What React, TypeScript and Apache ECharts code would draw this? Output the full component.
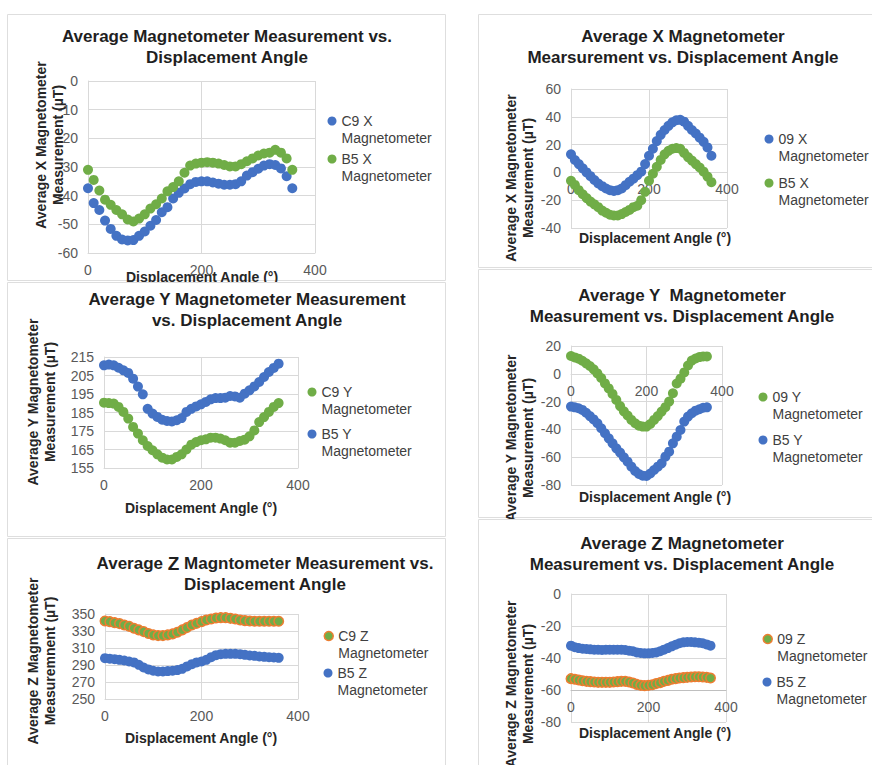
import React, { useEffect, useRef } from "react";
import * as echarts from "echarts";

const angles = [0, 10, 20, 30, 40, 50, 60, 70, 80, 90, 100, 110, 120, 130, 140, 150, 160, 170, 180, 190, 200, 210, 220, 230, 240, 250, 260, 270, 280, 290, 300, 310, 320, 330, 340, 350, 360];

// Panel 1: X, C9 vs B5
const p1C9X = [-37.4, -42.6, -45, -48.7, -51.6, -54, -55.3, -55.6, -55.5, -54, -52.5, -50.5, -48.5, -45.8, -44, -41, -39, -37.5, -36, -35.2, -35, -35, -35.4, -35.8, -36.2, -36.2, -36, -35, -33, -31.8, -30.6, -29.5, -29, -29.3, -30.5, -33.2, -37.4];
const p1B5X = [-31, -34.5, -38.2, -41.4, -43.2, -45, -46.5, -48.3, -49, -48, -46.5, -44.5, -43, -41, -38.5, -37, -35, -32, -29.5, -28.8, -28.5, -28.3, -28.5, -28.8, -29.3, -29.8, -29.8, -29, -28, -27, -26, -25.3, -25, -24, -25, -27, -31];
// Panel 2: X, 09 vs B5
const p2N09X = [13, 8.9, 6, 2.9, 0, -2.7, -5.5, -8, -9.9, -11.6, -12.8, -13.3, -12.8, -11.6, -9.2, -6.7, -4.5, -2, 0.5, 6, 12, 17, 22.5, 27, 30.5, 33.5, 36, 37.5, 37.8, 36.5, 33.5, 30.5, 28, 25, 22, 18, 12];
const p2B5X = [-6, -9, -12.8, -15.7, -18.5, -21, -23, -25, -27.5, -29, -30.5, -31, -31, -30, -28.5, -27, -25, -24, -20, -14, -6, -1, 4, 9, 13, 15.5, 17, 17.5, 17, 14, 11, 8.5, 6, 3.5, 0.5, -3, -7];
// Panel 3: Y, C9 vs B5
const p3C9Y = [190.3, 190.1, 189.8, 188, 185.3, 181.7, 177.2, 173.6, 170, 166.9, 164.6, 162.4, 160.6, 159.6, 159.6, 161, 162.4, 165, 167.6, 169, 170, 170.5, 171.4, 171.4, 170.9, 170, 168.7, 168.7, 169.6, 170.3, 172.1, 175.3, 179.8, 182.5, 185.3, 188, 190.1];
const p3B5Y = [210.5, 210.9, 210.5, 209.2, 207.8, 206.4, 203.3, 199, 194.8, 187, 184.4, 182.6, 181.1, 180.4, 180.2, 180.8, 182, 185.3, 187, 188.3, 189.4, 190.7, 192.1, 192.8, 192.8, 193, 193.9, 193.7, 193, 195.2, 197, 199.1, 201.5, 204.2, 206.9, 209.1, 211.4];
// Panel 4: Y, 09 vs B5
const p4N09Y = [12.8, 11.8, 10.9, 9.4, 7.5, 5.6, 3.2, 0.3, -3, -6.9, -10.5, -14.5, -18.8, -23.2, -27, -30, -33.2, -35.6, -37.3, -38, -38, -36.1, -33.2, -30.4, -27.2, -24, -20, -14, -7, -3.5, 1, 6, 9.5, 11, 12, 12.5, 12.5];
const p4B5Y = [-23.6, -24.1, -24.8, -26, -28, -30.4, -32.8, -35.6, -39.2, -42.8, -46.4, -50, -53.6, -56.7, -60.1, -63.2, -66.8, -69.9, -72.1, -73.3, -73.5, -71.7, -69.2, -66.8, -64.4, -59.6, -56, -50, -45.2, -40.4, -34.4, -30.8, -28.4, -26.5, -25.5, -24.4, -24.1];
// Panel 5: Z, C9 vs B5
const p5C9Z = [341.8, 341, 339.8, 338.7, 337.1, 335.5, 333.2, 331.3, 329.3, 327, 325.4, 324.6, 324.6, 325.4, 326.6, 328.5, 331.3, 334, 337.1, 339, 341, 343, 344.1, 345.3, 345.7, 345.7, 344.9, 344.1, 343, 342.2, 341.8, 341.4, 341.4, 341.4, 341.4, 341.4, 341.4];
const p5B5Z = [298, 297.3, 296.9, 296.1, 295.3, 294.1, 293, 290.2, 287.1, 284.8, 283.2, 282.4, 282.4, 282.8, 283.2, 284, 285.5, 288.3, 291, 293, 294.1, 296.1, 299.2, 301.6, 302.7, 303.1, 303.1, 303.1, 302.7, 302, 301.2, 300.8, 300, 299.6, 299.2, 298.8, 298.4];
// Panel 6: Z, 09 vs B5
const p6N09Z = [-52.9, -53.3, -53.75, -54.2, -54.6, -54.8, -55, -55.2, -55.2, -55.2, -55.2, -55, -54.8, -54.6, -54.6, -55, -55.6, -56.5, -57.1, -57.3, -57.1, -56.7, -56, -55.4, -54.6, -54, -53.3, -52.9, -52.5, -52.3, -52.1, -51.9, -51.7, -51.7, -51.9, -52.1, -52.5];
const p6B5Z = [-32.3, -33.3, -33.8, -34.2, -34.4, -34.6, -34.8, -34.8, -35, -34.8, -34.8, -34.8, -34.8, -34.8, -35, -35.4, -35.8, -36.5, -36.9, -37.1, -37.1, -36.9, -36.5, -35.8, -34.8, -33.8, -32.7, -31.7, -30.8, -30.2, -30, -30, -30.2, -30.4, -30.8, -31.5, -32.3];

const xRange = [0, 400, 200];
const yRanges = [
  [-60, 0, 10],
  [-40, 60, 20],
  [155, 215, 10],
  [-80, 20, 20],
  [250, 350, 20],
  [-80, 0, 20],
];
// value of the y axis where the horizontal axis crosses (null = bottom)
const xAxisCross: (number | null)[] = [null, 0, null, 0, null, -60];

const titles = [
  "Average Magnetometer Measurement vs.\nDisplacement Angle",
  "Average X Magnetometer\nMearsurement vs. Displacement Angle",
  "Average Y Magnetometer Measurement\nvs. Displacement Angle",
  "Average Y  Magnetometer\nMeasurement vs. Displacement Angle",
  "Average {z|Z} Magntometer Measurement vs.\nDisplacement Angle",
  "Average {z|Z} Magnetometer\nMeasurement vs. Displacement Angle",
];
const yNames = [
  "Average X Magnetometer\nMeasurement (µT)",
  "Average X Magnetometer\nMeasurement (µT)",
  "Average Y Magnetometer\nMeasurement (µT)",
  "Average Y Magnetometer\nMeasurement (µT)",
  "Average Z Magnetometer\nMeasuremnent (µT)",
  "Average Z Magnetometer\nMeasurement (µT)",
];
const xName = "Displacement Angle (°)";

const BLUE = "#4472C4";
const GREEN = "#70AD47";
const ORANGE = "#ED7D31";
const FONT = '"Liberation Sans", Arial, Helvetica, sans-serif';

type SeriesDef = { name: string; data: number[]; fill: string; border?: string };
const panelSeries: SeriesDef[][] = [
  [
    { name: "C9 X Magnetometer", data: p1C9X, fill: BLUE },
    { name: "B5 X Magnetometer", data: p1B5X, fill: GREEN },
  ],
  [
    { name: "09 X Magnetometer", data: p2N09X, fill: BLUE },
    { name: "B5 X Magnetometer", data: p2B5X, fill: GREEN },
  ],
  [
    { name: "C9 Y Magnetometer", data: p3C9Y, fill: GREEN },
    { name: "B5 Y Magnetometer", data: p3B5Y, fill: BLUE },
  ],
  [
    { name: "09 Y Magnetometer", data: p4N09Y, fill: GREEN },
    { name: "B5 Y Magnetometer", data: p4B5Y, fill: BLUE },
  ],
  [
    { name: "C9 Z Magnetometer", data: p5C9Z, fill: GREEN, border: ORANGE },
    { name: "B5 Z Magnetometer", data: p5B5Z, fill: BLUE },
  ],
  [
    { name: "09 Z Magnetometer", data: p6N09Z, fill: GREEN, border: ORANGE },
    { name: "B5 Z Magnetometer", data: p6B5Z, fill: BLUE },
  ],
];

// layout (pixels)
const grids = [
  { left: 88, top: 81, width: 227, height: 172 },
  { left: 571, top: 89, width: 156, height: 139 },
  { left: 104, top: 357, width: 194, height: 111 },
  { left: 571, top: 346, width: 151, height: 139 },
  { left: 105, top: 614, width: 193, height: 85 },
  { left: 571, top: 594, width: 155, height: 128 },
];
const panelRects = [
  { x: 7.5, y: 14.5, w: 438, h: 266 },
  { x: 478.5, y: 14.5, w: 400, h: 253 },
  { x: 7.5, y: 282.5, w: 438, h: 254 },
  { x: 478.5, y: 269.5, w: 400, h: 248 },
  { x: 7.5, y: 538.5, w: 438, h: 240 },
  { x: 478.5, y: 519.5, w: 400, h: 260 },
];
const titlePos = [
  { cx: 227, top: 25.5 },
  { cx: 683, top: 25.5 },
  { cx: 247, top: 288.5 },
  { cx: 682, top: 284.5 },
  { cx: 265, top: 552.5 },
  { cx: 682, top: 532.5 },
];
const yNamePos = [
  { x: 49, y: 145 },
  { x: 519.5, y: 178 },
  { x: 41.5, y: 402 },
  { x: 519.5, y: 438 },
  { x: 41.5, y: 661 },
  { x: 519.5, y: 684 },
];
const xNamePos = [
  { x: 202, y: 277 },
  { x: 655, y: 238 },
  { x: 201, y: 508 },
  { x: 655, y: 497 },
  { x: 201, y: 738 },
  { x: 655, y: 733 },
];
// marker centre x, first-line y of each legend item
const legendPos = [
  [{ x: 332, y: 121 }, { x: 332, y: 159 }],
  [{ x: 769, y: 139 }, { x: 769, y: 183 }],
  [{ x: 312, y: 392 }, { x: 312, y: 434 }],
  [{ x: 763, y: 397 }, { x: 763, y: 440 }],
  [{ x: 328, y: 636 }, { x: 328, y: 673 }],
  [{ x: 767, y: 639 }, { x: 767, y: 682 }],
];

const LH = 16.5;

function buildOption() {
  const xAxis: any[] = [];
  const yAxis: any[] = [];
  const series: any[] = [];
  const legend: any[] = [];
  const title: any[] = [];
  const graphic: any[] = [];

  grids.forEach((g, i) => {
    const yr = yRanges[i];
    const cross = xAxisCross[i];
    const offset = cross == null ? 0 : -((cross - yr[0]) / (yr[1] - yr[0])) * g.height;
    xAxis.push({
      type: "value",
      gridIndex: i,
      min: xRange[0],
      max: xRange[1],
      interval: xRange[2],
      offset,
      axisLine: { show: true, onZero: false, lineStyle: { color: i === 5 ? "#bfbfbf" : "#d9d9d9", width: 1 } },
      axisTick: { show: false },
      axisLabel: { color: "#595959", fontSize: 14, fontFamily: FONT, margin: 10 },
      splitLine: { show: true, lineStyle: { color: "#d9d9d9", width: 1 } },
    });
    yAxis.push({
      type: "value",
      gridIndex: i,
      min: yr[0],
      max: yr[1],
      interval: yr[2],
      axisLine: { show: true, onZero: false, lineStyle: { color: "#d9d9d9", width: 1 } },
      axisTick: { show: false },
      axisLabel: { color: "#595959", fontSize: 14, fontFamily: FONT, margin: 10 },
      splitLine: { show: true, lineStyle: { color: "#d9d9d9", width: 1 } },
    });

    panelSeries[i].forEach((s, k) => {
      const itemStyle: any = { color: s.fill, opacity: 1 };
      if (s.border) {
        itemStyle.borderColor = s.border;
        itemStyle.borderWidth = 1.5;
      }
      series.push({
        type: "scatter",
        name: s.name,
        xAxisIndex: i,
        yAxisIndex: i,
        symbol: "circle",
        symbolSize: s.border ? 9.5 : 10,
        itemStyle,
        emphasis: { disabled: true },
        data: angles.map((a, j) => [a, s.data[j]]),
      });
      const lp = legendPos[i][k];
      legend.push({
        data: [{ name: s.name, icon: "circle", itemStyle: { ...itemStyle } }],
        left: lp.x - 4.5,
        top: lp.y - LH * 1.5,
        padding: 0,
        orient: "vertical",
        itemWidth: 9,
        itemHeight: 9,
        selectedMode: false,
        formatter: (name: string) => "\n" + name.replace(" Magnetometer", "\nMagnetometer"),
        textStyle: { color: "#404040", fontSize: 14, fontFamily: FONT, lineHeight: LH },
      });
    });

    const tp = titlePos[i];
    title.push({
      text: titles[i],
      left: tp.cx,
      top: tp.top,
      textAlign: "center",
      padding: 0,
      textStyle: {
        color: "#1f1f1f",
        fontSize: 17,
        fontWeight: "bold",
        fontFamily: FONT,
        lineHeight: 21,
        rich: { z: { fontSize: 19, fontWeight: "bold", fontFamily: FONT, color: "#1f1f1f", lineHeight: 21 } },
      },
    });

    const r = panelRects[i];
    graphic.push({
      type: "rect",
      z: -1,
      shape: { x: r.x, y: r.y, width: r.w, height: r.h },
      style: { fill: "#ffffff", stroke: "#dedede", lineWidth: 1 },
    });
    const yp = yNamePos[i];
    graphic.push({
      type: "text",
      z: i === 3 ? -1 : 5,
      x: yp.x,
      y: yp.y,
      rotation: Math.PI / 2,
      style: {
        text: yNames[i],
        fill: "#262626",
        fontSize: 14,
        fontWeight: "bold",
        fontFamily: FONT,
        lineHeight: 17,
        textAlign: "center",
        textVerticalAlign: "middle",
        align: "center",
        verticalAlign: "middle",
      },
    });
    const xp = xNamePos[i];
    graphic.push({
      type: "text",
      z: i === 0 ? -1 : 5,
      x: xp.x,
      y: xp.y,
      style: {
        text: xName,
        fill: "#262626",
        fontSize: 14,
        fontWeight: "bold",
        fontFamily: FONT,
        textAlign: "center",
        textVerticalAlign: "middle",
        align: "center",
        verticalAlign: "middle",
      },
    });
  });

  return {
    animation: false,
    backgroundColor: "#ffffff",
    textStyle: { fontFamily: FONT },
    title,
    legend,
    grid: grids.map((g) => ({ ...g, containLabel: false })),
    xAxis,
    yAxis,
    series,
    graphic,
  };
}

export default function App() {
  const ref = useRef<HTMLDivElement>(null);
  useEffect(() => {
    if (!ref.current) return;
    const chart = echarts.init(ref.current, undefined, { renderer: "svg" });
    chart.setOption(buildOption() as any);
    return () => chart.dispose();
  }, []);
  return (
    <div
      ref={ref}
      style={{ position: "absolute", left: 0, top: 0, width: 872, height: 765, background: "#fff" }}
    />
  );
}
